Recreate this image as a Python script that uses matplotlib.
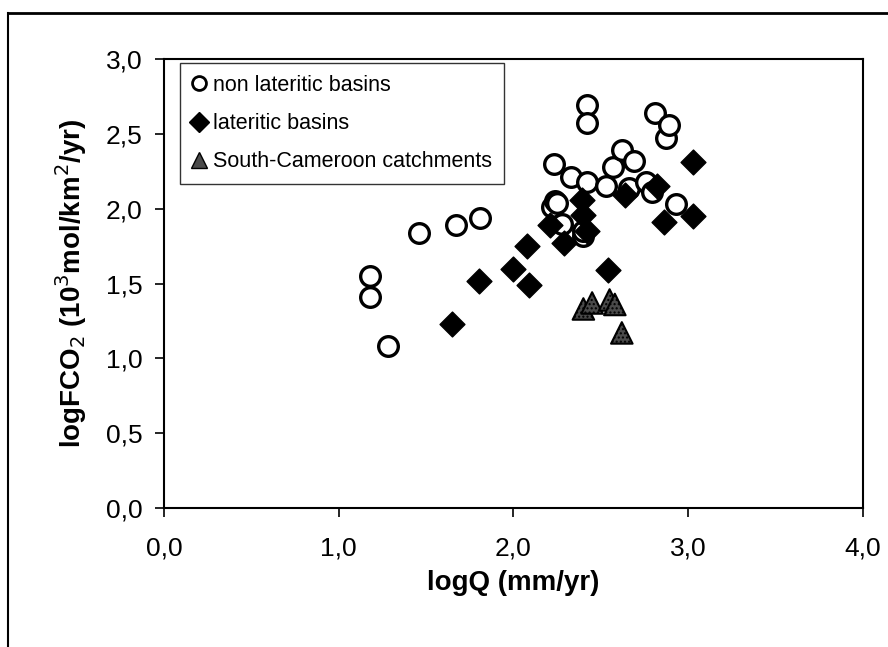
import matplotlib.pyplot as plt
from matplotlib.lines import Line2D

plt.rcParams['font.family'] = ['Liberation Sans', 'DejaVu Sans']

# non lateritic basins (open circles)
nonlat_x = [1.18, 1.18, 1.28, 1.46, 1.67, 1.81, 2.22, 2.24, 2.25, 2.28, 2.33,
            2.40, 2.40, 2.42, 2.42, 2.42, 2.53, 2.57, 2.62, 2.66, 2.69, 2.76,
            2.79, 2.81, 2.87, 2.89, 2.93, 2.23]
nonlat_y = [1.55, 1.41, 1.08, 1.84, 1.89, 1.94, 2.01, 2.05, 2.04, 1.90, 2.21,
            1.82, 1.85, 2.69, 2.57, 2.18, 2.15, 2.28, 2.39, 2.14, 2.32, 2.18,
            2.11, 2.64, 2.47, 2.56, 2.03, 2.30]

# lateritic basins (filled diamonds)
lat_x = [1.65, 1.80, 2.00, 2.08, 2.09, 2.21, 2.29, 2.39, 2.40, 2.42, 2.54,
         2.64, 2.82, 2.86, 3.03, 3.03]
lat_y = [1.23, 1.52, 1.60, 1.75, 1.49, 1.89, 1.77, 2.06, 1.96, 1.85, 1.59,
         2.09, 2.15, 1.91, 2.31, 1.95]

# South-Cameroon catchments (triangles)
cam_x = [2.40, 2.45, 2.55, 2.58, 2.62]
cam_y = [1.33, 1.37, 1.39, 1.36, 1.17]

xticks = [0.0, 1.0, 2.0, 3.0, 4.0]
yticks = [0.0, 0.5, 1.0, 1.5, 2.0, 2.5, 3.0]


def comma(v):
    return f"{v:.1f}".replace('.', ',')


fig = plt.figure(figsize=(8.88, 6.47), dpi=100)
ax = fig.add_axes([0.1847, 0.2148, 0.7871, 0.6940])

ax.scatter(nonlat_x, nonlat_y, s=200, facecolors='white', edgecolors='black',
           linewidths=2.4, zorder=3)
ax.scatter(lat_x, lat_y, s=160, marker='D', color='black', zorder=4)
ax.scatter(cam_x, cam_y, s=240, marker='^', facecolor='#4a4a4a',
           edgecolor='black', linewidths=1.5, hatch='....', zorder=5)

ax.set_xlim(0, 4)
ax.set_ylim(0, 3)
ax.set_xticks(xticks)
ax.set_yticks(yticks)
ax.set_xticklabels([comma(v) for v in xticks], fontsize=19)
ax.set_yticklabels([comma(v) for v in yticks], fontsize=19)
ax.tick_params(direction='out', length=6.5, width=1.2)
ax.tick_params(axis='x', pad=14)
ax.tick_params(axis='y', pad=9)
for s in ax.spines.values():
    s.set_linewidth(1.5)

ax.set_xlabel('logQ (mm/yr)', fontsize=20, fontweight='bold', labelpad=7)
ax.set_ylabel('logFCO$_2$ (10$^3$mol/km$^2$/yr)', fontsize=20,
              fontweight='bold', labelpad=12)

handles = [
    Line2D([], [], ls='none', marker='o', ms=10, mfc='white', mec='black', mew=2),
    Line2D([], [], ls='none', marker='D', ms=10, color='black'),
    Line2D([], [], ls='none', marker='^', ms=11, mfc='#4a4a4a', mec='black'),
]
labels = ['non lateritic basins', 'lateritic basins', 'South-Cameroon catchments']
leg = ax.legend(handles, labels, loc='upper left', bbox_to_anchor=(0.023, 0.991),
                fontsize=15.5, frameon=True, fancybox=False, edgecolor='black',
                handlelength=0.7, handletextpad=0.3, borderpad=0.55,
                labelspacing=0.8, borderaxespad=0)
leg.get_frame().set_linewidth(1.0)

# outer frame of the figure (left and top edges visible)
fig.add_artist(Line2D([8 / 888, 8 / 888], [0, 1 - 13 / 647],
                      transform=fig.transFigure, color='black', lw=1.5))
fig.add_artist(Line2D([8 / 888, 1], [1 - 13 / 647, 1 - 13 / 647],
                      transform=fig.transFigure, color='black', lw=2))

fig.savefig('out.png', dpi=100)
